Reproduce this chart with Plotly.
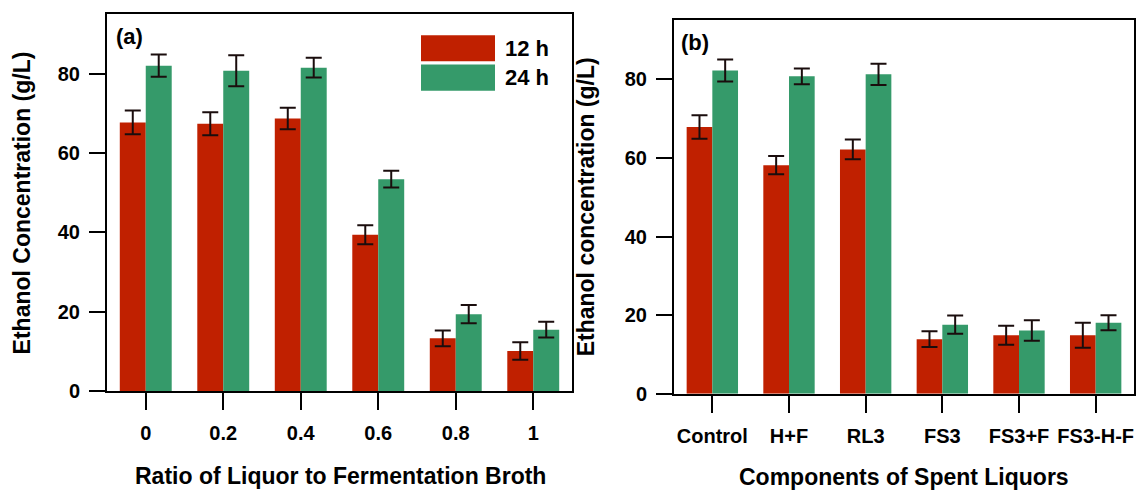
import plotly.graph_objects as go

# Panel (a): ratio of liquor to fermentation broth
ratio_labels = ["0", "0.2", "0.4", "0.6", "0.8", "1"]
ratio_12h = [67.7, 67.4, 68.7, 39.4, 13.3, 10.1]
ratio_12h_err = [3.0, 2.9, 2.7, 2.4, 2.0, 2.2]
ratio_24h = [82.0, 80.7, 81.5, 53.4, 19.4, 15.5]
ratio_24h_err = [2.8, 3.9, 2.5, 2.1, 2.3, 2.0]

# Panel (b): components of spent liquors
comp_labels = ["Control", "H+F", "RL3", "FS3", "FS3+F", "FS3-H-F"]
comp_12h = [67.9, 58.2, 62.2, 13.9, 14.9, 14.9]
comp_12h_err = [3.0, 2.3, 2.5, 2.0, 2.4, 3.2]
comp_24h = [82.3, 80.8, 81.3, 17.6, 16.1, 18.1]
comp_24h_err = [2.8, 2.0, 2.7, 2.3, 2.6, 1.9]

RED = "#C02000"
GREEN = "#359A6A"
ERR = "#1a0d0d"
FONT = "Liberation Sans, Arial, sans-serif"


def err(vals):
    return dict(type="data", array=vals, visible=True, color=ERR, thickness=2, width=8)


fig = go.Figure()
fig.add_trace(go.Bar(x=ratio_labels, y=ratio_12h, error_y=err(ratio_12h_err),
                     marker=dict(color=RED, line=dict(width=0)), name="12 h",
                     xaxis="x", yaxis="y", showlegend=False))
fig.add_trace(go.Bar(x=ratio_labels, y=ratio_24h, error_y=err(ratio_24h_err),
                     marker=dict(color=GREEN, line=dict(width=0)), name="24 h",
                     xaxis="x", yaxis="y", showlegend=False))
fig.add_trace(go.Bar(x=comp_labels, y=comp_12h, error_y=err(comp_12h_err),
                     marker=dict(color=RED, line=dict(width=0)), name="12 h",
                     xaxis="x2", yaxis="y2", showlegend=False))
fig.add_trace(go.Bar(x=comp_labels, y=comp_24h, error_y=err(comp_24h_err),
                     marker=dict(color=GREEN, line=dict(width=0)), name="24 h",
                     xaxis="x2", yaxis="y2", showlegend=False))

W, H = 1136, 498


def px_x(p):
    return p / W


def px_y(p):
    return 1 - p / H


tick_font = dict(family=FONT, size=20, color="black", weight="bold")
xcommon = dict(type="category", range=[-0.5, 5.5], showline=True, linewidth=2,
               linecolor="black", mirror=True, ticks="outside", ticklen=17,
               tickwidth=2, tickcolor="black", tickfont=tick_font,
               showgrid=False, zeroline=False, ticklabelstandoff=6)
ycommon = dict(showline=True, linewidth=2, linecolor="black", mirror=True,
               ticks="outside", ticklen=16, tickwidth=2, tickcolor="black",
               tickfont=tick_font, tickvals=[0, 20, 40, 60, 80],
               showgrid=False, zeroline=False, ticklabelstandoff=5)

fig.update_layout(
    width=W, height=H,
    margin=dict(l=0, r=0, t=0, b=0),
    paper_bgcolor="white", plot_bgcolor="white",
    barmode="group", bargap=0.33, bargroupgap=0,
    font=dict(family=FONT, color="black"),
    xaxis=dict(domain=[px_x(107), px_x(572)], anchor="y", **xcommon),
    yaxis=dict(domain=[px_y(400), px_y(14)], range=[0, 95.1], anchor="x", **ycommon),
    xaxis2=dict(domain=[px_x(674), px_x(1134)], anchor="y2", **xcommon),
    yaxis2=dict(domain=[px_y(402.7), px_y(20)], range=[0, 95.25], anchor="x2", **ycommon),
)

title_font = dict(family=FONT, size=23, color="black", weight="bold")
annotations = [
    dict(text="Ratio of Liquor to Fermentation Broth", x=px_x(340), y=px_y(487),
         xref="paper", yref="paper", showarrow=False, font=title_font,
         xanchor="center", yanchor="middle"),
    dict(text="Components of Spent Liquors", x=px_x(904), y=px_y(488),
         xref="paper", yref="paper", showarrow=False, font=title_font,
         xanchor="center", yanchor="middle"),
    dict(text="Ethanol Concentration (g/L)", x=px_x(22), y=px_y(208),
         xref="paper", yref="paper", showarrow=False, font=title_font,
         textangle=-90, xanchor="center", yanchor="middle"),
    dict(text="Ethanol concentration (g/L)", x=px_x(586), y=px_y(212),
         xref="paper", yref="paper", showarrow=False, font=title_font,
         textangle=-90, xanchor="center", yanchor="middle"),
    dict(text="(a)", x=px_x(129), y=px_y(37), xref="paper", yref="paper",
         showarrow=False, font=dict(family=FONT, size=22, color="black", weight="bold"),
         xanchor="center", yanchor="middle"),
    dict(text="(b)", x=px_x(695), y=px_y(43), xref="paper", yref="paper",
         showarrow=False, font=dict(family=FONT, size=22, color="black", weight="bold"),
         xanchor="center", yanchor="middle"),
]

# Legend: large swatches drawn in panel (a)
legend_items = [("12 h", RED, 36, 62.7), ("24 h", GREEN, 66, 92.7)]
shapes = []
for label, color, top, bottom in legend_items:
    shapes.append(dict(type="rect", xref="paper", yref="paper",
                       x0=px_x(421), x1=px_x(495), y0=px_y(bottom), y1=px_y(top),
                       fillcolor=color, line=dict(width=0)))
    annotations.append(dict(text=label, x=px_x(503), y=px_y((top + bottom) / 2),
                            xref="paper", yref="paper", showarrow=False,
                            font=dict(family=FONT, size=22, color="black", weight="bold"),
                            xanchor="left", yanchor="middle"))

fig.update_layout(annotations=annotations, shapes=shapes)
fig.write_html("out.html")
